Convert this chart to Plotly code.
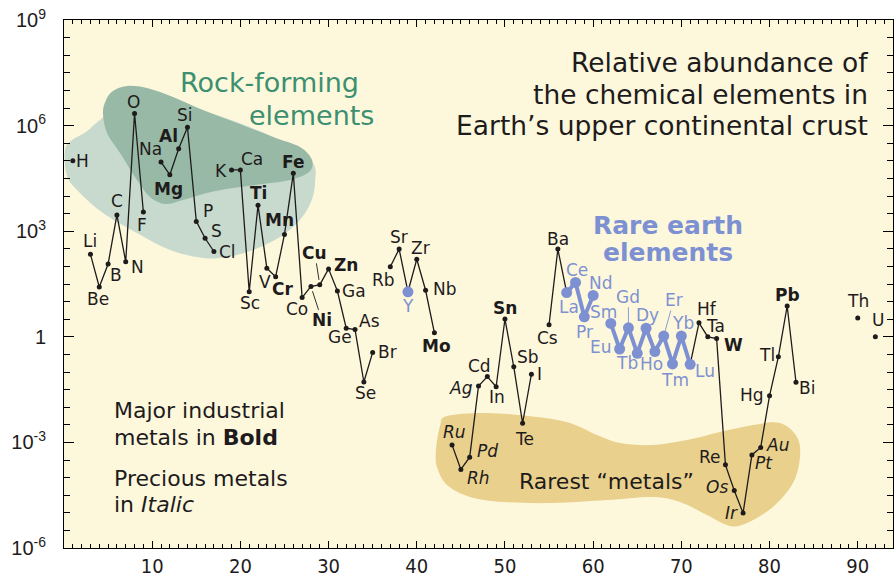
import math
import plotly.graph_objects as go

# ---------------- data ----------------
symbols = ["H", "Li", "Be", "B", "C", "N", "O", "F", "Na", "Mg", "Al", "Si", "P", "S", "Cl",
           "K", "Ca", "Sc", "Ti", "V", "Cr", "Mn", "Fe", "Co", "Ni", "Cu", "Zn", "Ga", "Ge", "As",
           "Se", "Br", "Rb", "Sr", "Y", "Zr", "Nb", "Mo", "Ru", "Rh", "Pd", "Ag", "Cd", "In", "Sn",
           "Sb", "Te", "I", "Cs", "Ba", "La", "Ce", "Pr", "Nd", "Sm", "Eu", "Gd", "Tb", "Dy", "Ho",
           "Er", "Tm", "Yb", "Lu", "Hf", "Ta", "W", "Re", "Os", "Ir", "Pt", "Au", "Hg", "Tl", "Pb",
           "Bi", "Th", "U"]
atomic_numbers = [1, 3, 4, 5, 6, 7, 8, 9, 11, 12, 13, 14, 15, 16, 17,
                  19, 20, 21, 22, 23, 24, 25, 26, 27, 28, 29, 30, 31, 32, 33,
                  34, 35, 37, 38, 39, 40, 41, 42, 44, 45, 46, 47, 48, 49, 50,
                  51, 52, 53, 55, 56, 57, 58, 59, 60, 62, 63, 64, 65, 66, 67,
                  68, 69, 70, 71, 72, 73, 74, 75, 76, 77, 78, 79, 80, 81, 82,
                  83, 90, 92]
# atoms per 10^6 atoms of Si
abundance = [1.0e5, 220, 26, 117, 2900, 135, 2.2e6, 3500, 9.3e4, 4.0e4, 2.2e5, 9.0e5, 1900, 630, 265,
             5.5e4, 5.5e4, 19, 5500, 89, 51, 810, 4.4e4, 13, 27, 30, 85, 20, 1.75, 1.6,
             0.052, 0.36, 98, 310, 19, 160, 21, 1.3, 8.5e-4, 1.7e-4, 3.8e-4, 0.040, 0.074, 0.038, 3.2,
             0.14, 3.5e-3, 0.087, 2.2, 310, 18, 35, 3.7, 15, 2.4, 0.45, 1.8, 0.34, 1.75, 0.38,
             1.05, 0.17, 1.05, 0.165, 2.5, 1.0, 0.89, 2.3e-4, 4.3e-5, 9.8e-6, 4.4e-4, 7.2e-4, 0.021, 0.27, 7.5,
             0.051, 3.4, 1.0]

bold_symbols = ["Mg", "Al", "Ti", "Cr", "Mn", "Fe", "Ni", "Cu", "Zn", "Mo", "Sn", "W", "Pb"]
italic_symbols = ["Ru", "Rh", "Pd", "Ag", "Os", "Ir", "Pt", "Au"]
rare_earths = ["Y", "La", "Ce", "Pr", "Nd", "Sm", "Eu", "Gd", "Tb", "Dy", "Ho", "Er", "Tm", "Yb", "Lu"]

black_segments = [
    ["Li", "Be", "B", "C", "N", "O", "F"],
    ["Na", "Mg", "Al", "Si", "P", "S", "Cl"],
    ["K", "Ca", "Sc", "Ti", "V", "Cr", "Mn", "Fe", "Co", "Ni", "Cu", "Zn", "Ga", "Ge", "As", "Se", "Br"],
    ["Rb", "Sr", "Y", "Zr", "Nb", "Mo"],
    ["Ru", "Rh", "Pd", "Ag", "Cd", "In", "Sn", "Sb", "Te", "I"],
    ["Cs", "Ba", "La"],
    ["Lu", "Hf", "Ta", "W", "Re", "Os", "Ir", "Pt", "Au", "Hg", "Tl", "Pb", "Bi"],
]
blue_segments = [
    ["La", "Ce", "Pr", "Nd"],
    ["Sm", "Eu", "Gd", "Tb", "Dy", "Ho", "Er", "Tm", "Yb", "Lu"],
]

y_tickvals = [1e-6, 1e-3, 1, 1e3, 1e6, 1e9]
y_ticktext = ["10<sup>-6</sup>", "10<sup>-3</sup>", "1", "10<sup>3</sup>", "10<sup>6</sup>", "10<sup>9</sup>"]
x_tickvals = [10, 20, 30, 40, 50, 60, 70, 80, 90]
x_ticktext = ["10", "20", "30", "40", "50", "60", "70", "80", "90"]

# ---------------- styling ----------------
W, H = 895, 580
PL, PR, PT, PB = 64, 893, 20, 548   # plot box in window pixels
BG = "#fdf8dc"
INK = "#1e1b1c"
BLUE = "#7d91d2"
GREEN_TXT = "#3c8f70"
DARK_BLOB = "#98b9a6"
LIGHT_BLOB = "#c7dacd"
GOLD_BLOB = "#e9d18d"
FONT = "DejaVu Sans"

idx = {s: i for i, s in enumerate(symbols)}


def seg_xy(segments):
    xs, ys = [], []
    for seg in segments:
        for s in seg:
            xs.append(atomic_numbers[idx[s]])
            ys.append(abundance[idx[s]])
        xs.append(None)
        ys.append(None)
    return xs, ys


def px_to_paper(px, py):
    return (px - PL) / (PR - PL), (PB - py) / (PB - PT)


def smooth_path(pix_pts):
    pts = [px_to_paper(*p) for p in pix_pts]
    n = len(pts)
    d = f"M {pts[0][0]:.4f},{pts[0][1]:.4f}"
    for i in range(n):
        p0, p1, p2, p3 = pts[(i - 1) % n], pts[i], pts[(i + 1) % n], pts[(i + 2) % n]
        c1 = (p1[0] + (p2[0] - p0[0]) / 6, p1[1] + (p2[1] - p0[1]) / 6)
        c2 = (p2[0] - (p3[0] - p1[0]) / 6, p2[1] - (p3[1] - p1[1]) / 6)
        d += f" C {c1[0]:.4f},{c1[1]:.4f} {c2[0]:.4f},{c2[1]:.4f} {p2[0]:.4f},{p2[1]:.4f}"
    return d + " Z"


light_outline = [(65, 150), (72, 140), (86, 132), (100, 120), (130, 100), (200, 110), (280, 140),
                 (312, 162), (315, 182), (311, 202), (299, 221), (280, 237), (253, 250), (227, 257),
                 (203, 258), (170, 250), (137, 233), (103, 213), (80, 193), (67, 176)]
dark_outline = [(106, 100), (113, 91), (127, 86), (147, 88), (173, 97), (203, 110), (237, 123),
                (273, 137), (300, 147), (312, 160), (309, 172), (290, 180), (263, 184), (233, 188),
                (207, 193), (183, 200), (165, 204), (150, 197), (137, 180), (120, 153), (107, 133),
                (103, 113)]
gold_outline = [(436, 450), (440, 426), (447, 416), (487, 413), (537, 417), (570, 423), (597, 435),
                (620, 443), (653, 445), (687, 440), (720, 432), (753, 425), (780, 423), (797, 437),
                (800, 457), (793, 483), (773, 507), (747, 523), (730, 526), (707, 515), (680, 502),
                (653, 497), (607, 500), (553, 503), (503, 502), (470, 497), (447, 485), (437, 467)]

shapes = [
    dict(type="path", xref="paper", yref="paper", path=smooth_path(light_outline),
         fillcolor=LIGHT_BLOB, line=dict(width=0), layer="below"),
    dict(type="path", xref="paper", yref="paper", path=smooth_path(dark_outline),
         fillcolor=DARK_BLOB, line=dict(width=0), layer="below"),
    dict(type="path", xref="paper", yref="paper", path=smooth_path(gold_outline),
         fillcolor=GOLD_BLOB, line=dict(width=0), layer="below"),
]

fig = go.Figure()

bx, by = seg_xy(black_segments)
fig.add_trace(go.Scatter(x=bx, y=by, mode="lines", line=dict(color=INK, width=1.3),
                         hoverinfo="skip", showlegend=False))
dot_x = [atomic_numbers[i] for i, s in enumerate(symbols) if s not in rare_earths]
dot_y = [abundance[i] for i, s in enumerate(symbols) if s not in rare_earths]
fig.add_trace(go.Scatter(x=dot_x, y=dot_y, mode="markers", marker=dict(color=INK, size=5),
                         hoverinfo="skip", showlegend=False))
ux, uy = seg_xy(blue_segments)
fig.add_trace(go.Scatter(x=ux, y=uy, mode="lines+markers", line=dict(color=BLUE, width=4),
                         marker=dict(color=BLUE, size=11), hoverinfo="skip", showlegend=False))
fig.add_trace(go.Scatter(x=[atomic_numbers[idx["Y"]]], y=[abundance[idx["Y"]]], mode="markers",
                         marker=dict(color=BLUE, size=11), hoverinfo="skip", showlegend=False))

# label offsets (pixels; dy positive = down)
offsets = {
    "H": (10, 0), "Li": (0, -13), "Be": (-1, 12), "B": (8, 11), "C": (0, -14), "N": (12, 5),
    "O": (-1, -12), "F": (-1, 13), "Na": (-11, -13), "Mg": (-1, 14), "Al": (-10, -13),
    "Si": (-2, -12), "P": (12, -10), "S": (11, -7), "Cl": (14, 0), "K": (-11, 1), "Ca": (12, -11),
    "Sc": (1, 11), "Ti": (0, -12), "V": (-2, 14), "Cr": (7, 12), "Mn": (-5, -14), "Fe": (0, -11),
    "Co": (-5, 11), "Ga": (17, 0), "Zn": (17, -4), "Ge": (-6, 9), "As": (14, -9), "Se": (2, 11),
    "Br": (15, 0), "Rb": (-7, 13), "Sr": (0, -12), "Y": (0, 14), "Zr": (4, -11), "Nb": (19, -1),
    "Mo": (2, 13), "Ru": (2, -13), "Rh": (18, 9), "Pd": (18, -6), "Ag": (-18, 2), "Cd": (-8, -11),
    "In": (1, 10), "Sn": (0, -11), "Sb": (14, -10), "Te": (2, 16), "I": (8, 0), "Cs": (-2, 13),
    "Ba": (0, -10), "La": (2, 14), "Ce": (1, -12), "Pr": (0, 15), "Nd": (8, -12), "Sm": (-7, -11),
    "Eu": (-19, -2), "Tb": (-10, 10), "Dy": (1, -13), "Ho": (-3, 12), "Tm": (2, 16),
    "Yb": (2, -13), "Lu": (15, 7), "Hf": (8, -14), "Ta": (8, -11), "W": (17, 6), "Re": (-15, -8),
    "Os": (-17, -4), "Ir": (-12, 0), "Pt": (12, 8), "Au": (17, -2), "Hg": (-18, -1),
    "Tl": (-11, -2), "Pb": (0, -11), "Bi": (11, 6), "Th": (0, -17), "U": (3, -17),
}
leaders = {"Cu": (-5, -32), "Ni": (11, 34), "Gd": (0, -31), "Er": (10, -36)}

annotations = []
for i, s in enumerate(symbols):
    txt = s
    if s in bold_symbols:
        txt = f"<b>{s}</b>"
    if s in italic_symbols:
        txt = f"<i>{s}</i>"
    color = BLUE if s in rare_earths else INK
    lx = atomic_numbers[i]
    ly = math.log10(abundance[i])
    if s in leaders:
        dx, dy = leaders[s]
        annotations.append(dict(x=lx, y=ly, xref="x", yref="y", text=txt, showarrow=True,
                                ax=dx, ay=dy, arrowhead=0, arrowwidth=0.9, arrowcolor=color,
                                standoff=5, borderpad=0,
                                font=dict(family=FONT, size=17, color=color)))
    else:
        dx, dy = offsets[s]
        annotations.append(dict(x=lx, y=ly, xref="x", yref="y", text=txt, showarrow=False,
                                xshift=dx, yshift=-dy,
                                font=dict(family=FONT, size=17, color=color)))


def ptext(text, px, py, size, color=INK, anchor="center"):
    x, y = px_to_paper(px, py)
    annotations.append(dict(x=x, y=y, xref="paper", yref="paper", text=text, showarrow=False,
                            xanchor=anchor, yanchor="middle",
                            font=dict(family=FONT, size=size, color=color)))


ptext("Relative abundance of", 870, 62, 26.5, anchor="right")
ptext("the chemical elements in", 870, 94, 26.5, anchor="right")
ptext("Earth\u2019s upper continental crust", 870, 125, 26.5, anchor="right")
ptext("Rock-forming", 269, 82, 27, color=GREEN_TXT)
ptext("elements", 311, 115, 27, color=GREEN_TXT)
ptext("<b>Rare earth</b>", 668, 225, 25, color=BLUE)
ptext("<b>elements</b>", 668, 252, 25, color=BLUE)
ptext("Major industrial", 112, 410, 22, anchor="left")
ptext("metals in <b>Bold</b>", 112, 437, 22, anchor="left")
ptext("Precious metals", 112, 478, 22, anchor="left")
ptext("in <i>Italic</i>", 112, 504, 22, anchor="left")
ptext("Rarest \u201cmetals\u201d", 606, 481, 22)

fig.update_layout(
    width=W, height=H,
    margin=dict(l=PL, r=W - PR, t=PT, b=H - PB, autoexpand=False),
    paper_bgcolor="white", plot_bgcolor=BG,
    font=dict(family=FONT, color=INK),
    shapes=shapes, annotations=annotations, showlegend=False,
    xaxis=dict(range=[0, 94], showgrid=False, zeroline=False, showline=True, linecolor="black",
               linewidth=1, mirror="ticks", ticks="inside", ticklen=7, tickwidth=1, tickcolor="black",
               tickvals=x_tickvals, ticktext=x_ticktext,
               tickfont=dict(family="Liberation Sans Narrow, DejaVu Sans Condensed, Arial Narrow, sans-serif",
                             size=20, color=INK),
               minor=dict(dtick=1, ticklen=4, ticks="inside", tickcolor="black", showgrid=False)),
    yaxis=dict(type="log", range=[-6, 9], showgrid=False, zeroline=False, showline=True,
               linecolor="black", linewidth=1, mirror="ticks", ticks="inside", ticklen=10,
               tickwidth=1, tickcolor="black", tickvals=y_tickvals, ticktext=y_ticktext,
               tickfont=dict(family="Liberation Sans, Arial, sans-serif", size=20, color=INK),
               ticklabelstandoff=13, ticklabeloverflow="allow",
               minor=dict(tickmode="array", tickvals=[10 ** (k / 2) for k in range(-12, 19)],
                          ticklen=6, ticks="inside", tickcolor="black", showgrid=False)),
)

# remove the default 8px page margin so the figure fills the window exactly
fig.write_html("out.html", config={"displayModeBar": False},
               post_script="document.body.style.margin='0';document.body.style.overflow='hidden';")
